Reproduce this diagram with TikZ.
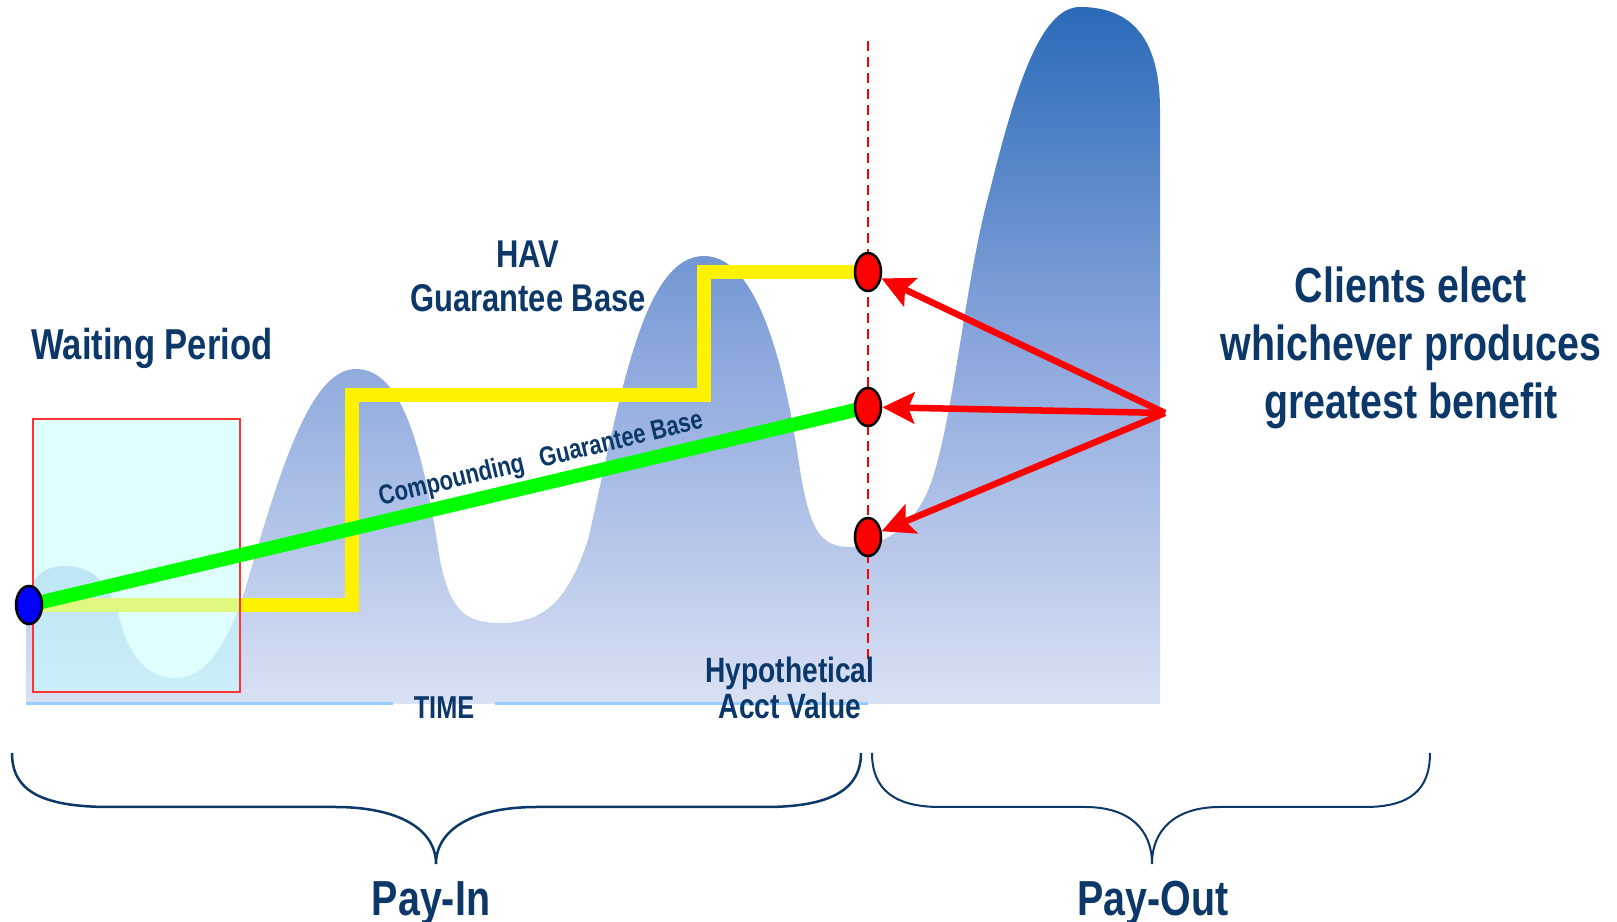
\documentclass[tikz,border=0pt]{standalone}
\usepackage{fontspec}
\setmainfont{Liberation Sans}[FakeStretch=0.8]
\usetikzlibrary{arrows.meta,shapes.geometric}
\definecolor{navy}{HTML}{0B3868}
\definecolor{peaktop}{HTML}{2A6AB8}
\definecolor{peakmid}{HTML}{8DA8DD}
\definecolor{peakbot}{HTML}{D9E1F4}
\definecolor{waitcyan}{HTML}{C0FFFF}
\definecolor{timeline}{HTML}{99CCFF}

\begin{document}
\begin{tikzpicture}[x=0.01cm,y=-0.01cm]
\tikzset{
lbl/.style={text=navy,inner sep=0pt},
dot/.style={ellipse,draw=black,line width=0.25mm,minimum width=2.6mm,
  minimum height=3.8mm,inner sep=0pt,fill=red},
havline/.style={draw=yellow,line width=1.35mm},
cgline/.style={draw=green,line width=1.4mm},
elect/.style={draw=red,line width=0.65mm,
  -{Stealth[length=3.2mm,width=3.1mm,inset=0.6mm]}},
brace/.style={draw=navy,line width=0.25mm},
}
\useasboundingbox (0,0) rectangle (1617,922);
% points
\coordinate (p0) at (29,605);
\coordinate (stepA) at (352,395);
\coordinate (stepB) at (704,272);
\coordinate (pA) at (868,272);
\coordinate (pB) at (868,407);
\coordinate (pC) at (868,537);
\coordinate (src) at (1165,413);
\coordinate (tl) at (26,704);
\coordinate (tr) at (868,704);

% account value over time
\shade[top color=peaktop,bottom color=peakbot,middle color=peakmid]
  (26,704) -- (26,615)
  .. controls (26,580) and (42,566) .. (64,566)
  .. controls (95,566) and (110,585) .. (120,620)
  .. controls (130,660) and (150,678) .. (175,678)
  .. controls (205,678) and (225,650) .. (245,590)
  .. controls (280,470) and (310,369) .. (356,369)
  .. controls (400,369) and (422,440) .. (440,560)
  .. controls (450,610) and (465,623) .. (500,623)
  .. controls (545,623) and (568,600) .. (588,540)
  .. controls (620,400) and (642,256) .. (704,256)
  .. controls (765,256) and (790,400) .. (800,470)
  .. controls (810,530) and (820,547) .. (850,547)
  .. controls (880,547) and (915,530) .. (932,480)
  .. controls (955,410) and (965,280) .. (990,190)
  .. controls (1015,90) and (1040,7) .. (1080,7)
  .. controls (1140,7) and (1160,50) .. (1160,110)
  -- (1160,704) -- cycle;

\node[lbl,font=\bfseries\fontsize{9}{10}\selectfont,anchor=base,inner xsep=2mm] (time) at (444,719) {TIME};
\draw[timeline,line width=0.3mm] (tl) -- (tl -| time.west);
\draw[timeline,line width=0.3mm] (tl -| time.east) -- (tr);

\draw[havline] (p0) -| (stepA) -| (stepB) -- (pA);
\draw[draw=red!80,line width=0.12mm,fill=waitcyan,fill opacity=0.5] (33,419) rectangle (240,692);
\draw[cgline] (p0) -- (pB);
\draw[red,line width=0.15mm,dash pattern=on 1mm off 0.6mm] (868,41) -- (868,660);

\node[dot,fill=blue] (start) at (p0) {};
\node[dot] (dA) at (pA) {};
\node[dot] (dB) at (pB) {};
\node[dot] (dC) at (pC) {};
\draw[elect] (src) -- (dA);
\draw[elect] (src) -- (dB);
\draw[elect] (src) -- (dC);

\node[lbl,font=\bfseries\fontsize{12.3}{14}\selectfont,anchor=base] (wait) at (152,360) {Waiting Period};
\node[lbl,font=\bfseries\fontsize{11}{12.5}\selectfont,align=center] (hav) at (528,276) {HAV\\Guarantee Base};
\node[lbl,font=\bfseries\fontsize{7.8}{9}\selectfont,rotate=13.5] (cgb) at (541,460) {Compounding\hspace{0.6em}Guarantee Base};
\node[lbl,font=\bfseries\fontsize{14}{16.5}\selectfont,align=center] (clients) at (1411,348) {Clients elect\\whichever produces\\greatest benefit};
\node[lbl,font=\bfseries\fontsize{10}{10.3}\selectfont,align=center] (hyp) at (790,688) {Hypothetical\\Acct Value};

% pay-in / pay-out braces
\draw[brace] (12,753) .. controls (12,790) and (40,807) .. (110,807) -- (335,807)
  .. controls (400,807) and (436,830) .. (436,864)
  .. controls (436,830) and (472,807) .. (537,807) -- (765,807)
  .. controls (830,807) and (861,790) .. (861,753);
\draw[brace,line width=0.2mm] (872,753) .. controls (872,790) and (895,807) .. (940,807) -- (1085,807)
  .. controls (1130,807) and (1152,830) .. (1152,864)
  .. controls (1152,830) and (1175,807) .. (1220,807) -- (1365,807)
  .. controls (1410,807) and (1430,790) .. (1430,753);
\node[lbl,font=\bfseries\fontsize{14}{16}\selectfont,anchor=base] (payin) at (431,916) {Pay-In};
\node[lbl,font=\bfseries\fontsize{14}{16}\selectfont,anchor=base] (payout) at (1153,916) {Pay-Out};
\end{tikzpicture}
\end{document}
